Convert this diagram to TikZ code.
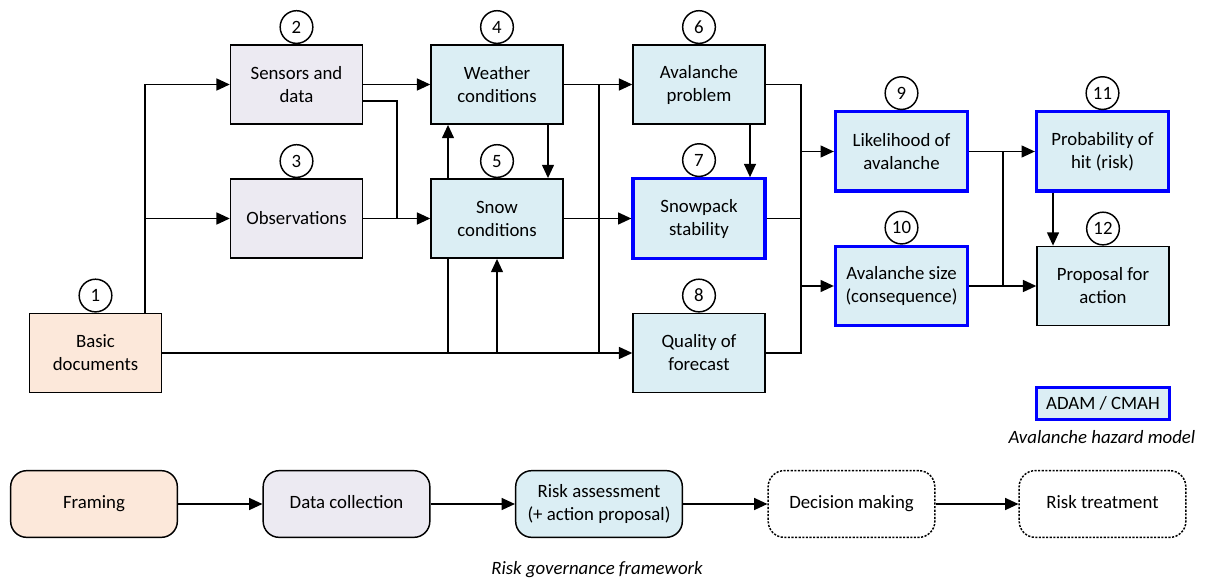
\documentclass[tikz,border=0pt]{standalone}
\usepackage{fontspec}
\setmainfont{Carlito}
\usetikzlibrary{arrows.meta}
\definecolor{peach}{RGB}{252,232,218}
\definecolor{lav}{RGB}{236,234,242}
\definecolor{lblue}{RGB}{219,238,244}
\definecolor{bblue}{RGB}{0,0,255}
\newcommand\myfs{\fontsize{14.1}{17.25}\selectfont}
\begin{document}
\begin{tikzpicture}[x=0.75pt,y=-0.75pt,
 box/.style={draw, line width=1.1pt, minimum width=99pt, minimum height=59.5pt, align=center, inner sep=1pt, font=\myfs},
 hz/.style={box, draw=bblue, line width=2.5pt},
 numc/.style={circle, draw, fill=white, line width=1.1pt, minimum size=24.5pt, inner sep=0pt, font=\myfs, anchor=south},
 rbox/.style={draw, line width=1.1pt, rounded corners=12pt, minimum width=125pt, minimum height=50pt, align=center, font=\myfs},
 dbox/.style={rbox, dash pattern=on 1.6pt off 1.1pt},
 conn/.style={line width=1.1pt},
 arr/.style={conn, -{Triangle[length=10pt,width=9pt]}},
 captxt/.style={font=\myfs\itshape}
]
\useasboundingbox (0,0) rectangle (1206,581);

% top model
\node[box, fill=peach] (n1) at (95.5,353) {Basic\\documents};
\node[box, fill=lav] (n2) at (296.5,84.5) {Sensors and\\data};
\node[box, fill=lav] (n3) at (296.5,218.5) {Observations};
\node[box, fill=lblue] (n4) at (497,84.5) {Weather\\conditions};
\node[box, fill=lblue] (n5) at (497,218.5) {Snow\\conditions};
\node[box, fill=lblue] (n6) at (699,84.5) {Avalanche\\problem};
\node[hz, fill=lblue] (n7) at (699,218.5) {Snowpack\\stability};
\node[box, fill=lblue] (n8) at (699,353) {Quality of\\forecast};
\node[hz, fill=lblue] (n9) at (901.5,151.5) {Likelihood of\\avalanche};
\node[hz, fill=lblue] (n10) at (901.5,286) {Avalanche size\\(consequence)};
\node[hz, fill=lblue] (n11) at (1102.5,151.5) {Probability of\\hit (risk)};
\node[box, fill=lblue] (n12) at (1103,286) {Proposal for\\action};

\foreach \i in {1,...,12} \node[numc] (c\i) at (n\i.north) {\i};

\coordinate (a1) at (145,84.5);
\coordinate (a2) at (145,218.5);
\coordinate (b1) at (397,101);
\coordinate (x1) at (448,0);
\coordinate (x2) at (548,0);
\coordinate (x3) at (599,0);
\coordinate (x4) at (750,0);
\coordinate (x5) at (801,0);
\coordinate (x6) at (1003,0);
\coordinate (x7) at (1053,0);

\draw[arr] (n1.north -| a1) |- (n2.west);
\draw[arr] (a2) -- (n3.west);
\draw[arr] (n2) -- (n4);
\draw[conn] (n2.east |- b1) -- (b1) -- (b1 |- n3.east);
\draw[arr] (n3) -- (n5);
\draw[arr] (n5.north -| x1) -- (n4.south -| x1);
\draw[arr] (n4.south -| x2) -- (n5.north -| x2);
\draw[arr] (n1.east) -- (n8.west);
\draw[conn] (n1.east -| x1) -- (n5.south -| x1);
\draw[arr] (n1.east -| n5.south) -- (n5.south);
\draw[conn] (n4.east -| x3) -- (n8.west -| x3);
\draw[arr] (n4) -- (n6);
\draw[arr] (n5) -- (n7);
\draw[arr] (n6.south -| x4) -- (n7.north -| x4);
\draw[conn] (n6.east) -| (x5 |- n8.east) -- (n8.east);
\draw[conn] (n7.east) -- (n7.east -| x5);
\draw[arr] (n9.west -| x5) -- (n9.west);
\draw[arr] (n10.west -| x5) -- (n10.west);
\draw[arr] (n9) -- (n11);
\draw[conn] (n9.east -| x6) -- (n10.east -| x6);
\draw[arr] (n10) -- (n12);
\draw[arr] (n11.south -| x7) -- (n12.north -| x7);

% legend
\node[hz, fill=lblue, minimum height=24pt, minimum width=100pt] (leg) at (1103,403.5) {ADAM / CMAH};
\node[captxt] (legcap) at (1102,437) {Avalanche hazard model};

% governance framework
\node[rbox, fill=peach] (f1) at (94,504) {\strut Framing};
\node[rbox, fill=lav] (f2) at (346.5,504) {\strut Data collection};
\node[rbox, fill=lblue] (f3) at (599,504) {Risk assessment\\(+ action proposal)};
\node[dbox] (f4) at (851.5,504) {\strut Decision making};
\node[dbox] (f5) at (1102.5,504) {\strut Risk treatment};
\draw[arr] (f1) -- (f2);
\draw[arr] (f2) -- (f3);
\draw[arr] (f3) -- (f4);
\draw[arr] (f4) -- (f5);
\node[captxt] (gcap) at (597,570) {Risk governance framework};
\end{tikzpicture}
\end{document}
